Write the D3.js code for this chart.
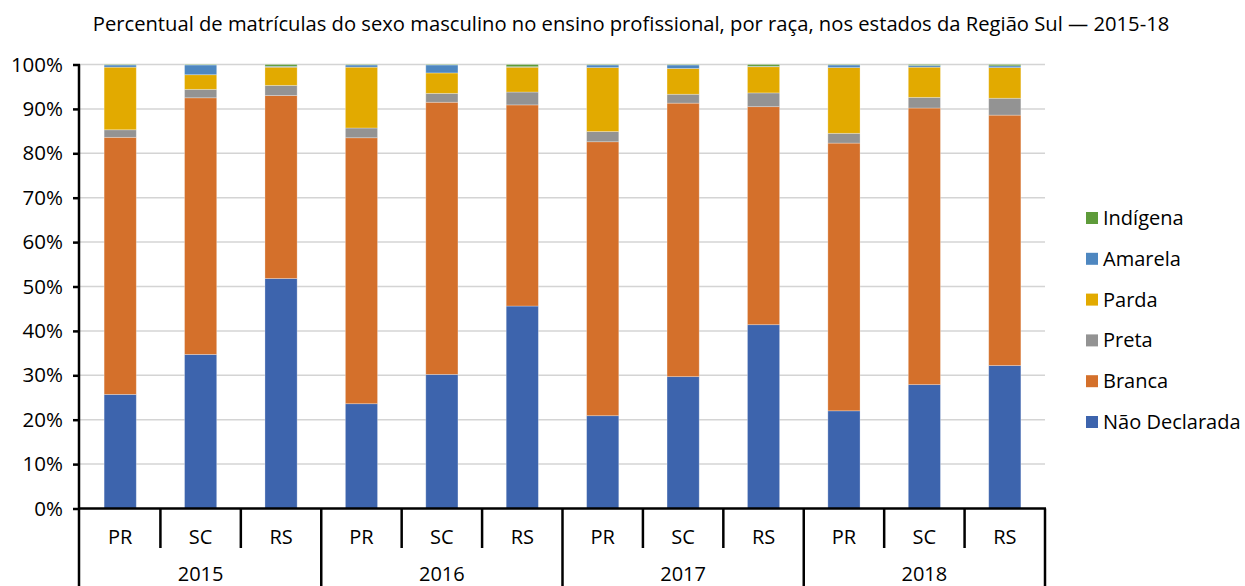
<!DOCTYPE html>
<html><head><meta charset="utf-8">
<script src="https://cdn.jsdelivr.net/npm/d3@7"></script>
<style>body{margin:0;background:#fff;} svg{display:block;} text{font-family:"Open Sans",sans-serif;fill:#000;}</style>
</head><body>
<svg id="c" width="1245" height="586"></svg>
<script>
const title = "Percentual de matrículas do sexo masculino no ensino profissional, por raça, nos estados da Região Sul — 2015-18";
const years = ["2015","2016","2017","2018"];
const states = ["PR","SC","RS"];
const seriesNames = ["Não Declarada","Branca","Preta","Parda","Amarela","Indígena"];
const seriesColors = ["#3D64AD","#D4702B","#939393","#E2AA00","#4E87C0","#5E9B3A"];
// values per bar in order 2015 PR,SC,RS, 2016 PR,SC,RS, ...
const naoDeclarada = [25.7,34.7,51.8, 23.6,30.2,45.6, 20.9,29.7,41.4, 22.0,27.9,32.2];
const branca       = [57.9,57.8,41.2, 59.9,61.3,45.3, 61.7,61.6,49.1, 60.3,62.3,56.4];
const preta        = [ 1.7, 1.9, 2.3,  2.2, 2.0, 2.9,  2.3, 2.0, 3.1,  2.2, 2.4, 3.8];
const parda        = [14.1, 3.3, 4.1, 13.7, 4.6, 5.6, 14.4, 5.8, 5.9, 14.8, 6.8, 6.9];
const amarela      = [ 0.5, 2.2, 0.2,  0.5, 1.8, 0.1,  0.6, 0.8, 0.1,  0.6, 0.4, 0.4];
const indigena     = [ 0.1, 0.1, 0.4,  0.1, 0.1, 0.5,  0.1, 0.1, 0.4,  0.1, 0.2, 0.3];
const yTicks = [0,10,20,30,40,50,60,70,80,90,100];

const seriesValues = [naoDeclarada,branca,preta,parda,amarela,indigena];
const bars = [];
years.forEach((y,i)=>states.forEach((s,j)=>{
  const idx=i*3+j; const row={key:y+"-"+s, year:y, state:s};
  seriesNames.forEach((n,k)=>row[n]=seriesValues[k][idx]);
  bars.push(row);
}));

const svg = d3.select("#c");
const L=80, R=1045, T=64.5, B=508.5;
const x = d3.scaleBand().domain(bars.map(d=>d.key)).range([L,R]).paddingInner(0.6).paddingOuter(0.3);
const y = d3.scaleLinear().domain([0,100]).range([B,T]);

// title
svg.append("text").attr("x",631).attr("y",31).attr("text-anchor","middle")
  .style("font-size","20.2px").text(title);

// gridlines
svg.append("g").selectAll("line").data(yTicks.filter(t=>t>0)).join("line")
  .attr("x1",L).attr("x2",R).attr("y1",d=>y(d)).attr("y2",d=>y(d))
  .attr("stroke","#d4d4d4").attr("stroke-width",1.5);

// stacked bars
const stack = d3.stack().keys(seriesNames)(bars);
svg.append("g").selectAll("g").data(stack).join("g")
  .attr("fill",(d,i)=>seriesColors[i])
  .selectAll("rect").data(d=>d).join("rect")
  .attr("x",d=>x(d.data.key)).attr("width",x.bandwidth())
  .attr("y",d=>y(d[1])).attr("height",d=>Math.max(0,y(d[0])-y(d[1])))
  .attr("stroke","#ffffff").attr("stroke-opacity",0.35).attr("stroke-width",0.8);

// y axis
const yAxis = d3.axisLeft(y).tickValues(yTicks).tickFormat(d=>d+"%").tickSize(7).tickPadding(10);
const ga = svg.append("g").attr("transform",`translate(${L},0)`).call(yAxis);
ga.select(".domain").remove();
ga.selectAll(".tick line").attr("stroke","#000").attr("stroke-width",2.5);
ga.selectAll(".tick text").style("font-size","20.5px").style("font-family","'Open Sans',sans-serif").attr("fill","#000");
svg.append("line").attr("x1",L-1).attr("x2",L-1).attr("y1",T).attr("y2",586).attr("stroke","#000").attr("stroke-width",2.5);

// x axis baseline
svg.append("line").attr("x1",L-2).attr("x2",R+1).attr("y1",B).attr("y2",B).attr("stroke","#000").attr("stroke-width",2.5);

// state separators & labels
const step = x.step();
bars.forEach((d,i)=>{
  const cx = x(d.key)+x.bandwidth()/2;
  svg.append("text").attr("x",cx).attr("y",543.5).attr("text-anchor","middle").style("font-size","20px").text(d.state);
  const rightEdge = cx + step/2;
  const isYearEnd = (i%3===2);
  svg.append("line").attr("x1",rightEdge).attr("x2",rightEdge).attr("y1",B).attr("y2",isYearEnd?586:548)
    .attr("stroke","#000").attr("stroke-width",2.5);
});
// year labels
years.forEach((yr,i)=>{
  const a = x(bars[i*3].key)+x.bandwidth()/2, b = x(bars[i*3+2].key)+x.bandwidth()/2;
  svg.append("text").attr("x",(a+b)/2).attr("y",580.5).attr("text-anchor","middle").style("font-size","20px").text(yr);
});

// legend
const legendOrder = seriesNames.map((n,i)=>({n,c:seriesColors[i]})).reverse();
const lg = svg.append("g");
legendOrder.forEach((d,i)=>{
  const cy = 218 + i*40.8;
  lg.append("rect").attr("x",1086).attr("y",cy-6).attr("width",12).attr("height",12).attr("fill",d.c);
  lg.append("text").attr("x",1103).attr("y",cy+7).style("font-size","20px").text(d.n);
});
</script>
</body></html>
